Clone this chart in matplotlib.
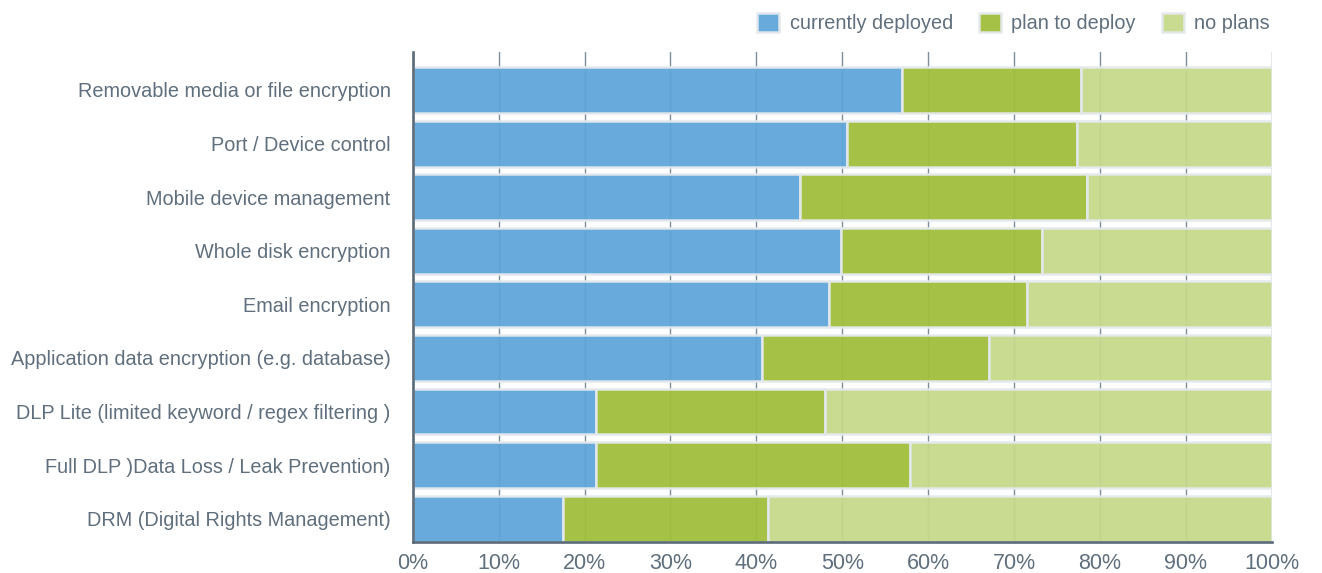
import matplotlib
matplotlib.use("Agg")
import matplotlib.pyplot as plt
import numpy as np

# Survey results: share of respondents per technology (percent)
categories = [
    "Removable media or file encryption",
    "Port / Device control",
    "Mobile device management",
    "Whole disk encryption",
    "Email encryption",
    "Application data encryption (e.g. database)",
    "DLP Lite (limited keyword / regex filtering )",
    "Full DLP )Data Loss / Leak Prevention)",
    "DRM (Digital Rights Management)",
]
currently_deployed = [57.0, 50.6, 45.1, 49.9, 48.4, 40.7, 21.3, 21.3, 17.5]
plan_to_deploy = [20.8, 26.7, 33.4, 23.4, 23.1, 26.4, 26.7, 36.6, 23.8]
no_plans = [22.2, 22.7, 21.5, 26.7, 28.5, 32.9, 52.0, 42.1, 58.7]
series_names = ["currently deployed", "plan to deploy", "no plans"]
tick_values = [0, 10, 20, 30, 40, 50, 60, 70, 80, 90, 100]
tick_labels = [f"{v}%" for v in tick_values]

colors = ["#5fa6d9", "#a0bf3c", "#c6d88b"]
edge_color = "#e4e9ed"
text_color = "#5f6f7d"
axis_color = "#5b6b79"
grid_color = "#7f8e9b"

plt.rcParams["font.family"] = ["Liberation Sans", "DejaVu Sans"]

fig = plt.figure(figsize=(13.22, 5.73), dpi=100)
ax = fig.add_axes([0.3122, 0.0546, 0.6498, 0.8552])

y = np.arange(len(categories))
left = np.zeros(len(categories))
handles = []
for name, vals, col in zip(series_names,
                           [currently_deployed, plan_to_deploy, no_plans],
                           colors):
    bars = ax.barh(y, vals, left=left, height=0.856, color=col,
                   edgecolor=edge_color, linewidth=1.8, alpha=0.95,
                   label=name, zorder=2)
    handles.append(bars)
    left = left + np.array(vals)

ax.set_xlim(0, 100)
ax.set_ylim(8.43, -0.715)
ax.set_xticks(tick_values)
ax.set_xticklabels(tick_labels)
ax.set_yticks(y)
ax.set_yticklabels(categories)

ax.tick_params(axis="x", length=0, pad=8, labelsize=15.5, labelcolor=text_color)
ax.tick_params(axis="y", length=0, pad=16, labelsize=14.3, labelcolor=text_color)

ax.xaxis.grid(True, color=grid_color, linewidth=1.0, zorder=0)
ax.yaxis.grid(False)
ax.set_axisbelow(True)

for side in ["top", "right"]:
    ax.spines[side].set_visible(False)
for side in ["left", "bottom"]:
    ax.spines[side].set_color(axis_color)
    ax.spines[side].set_linewidth(1.9)
    ax.spines[side].set_zorder(3)

fig.legend(handles=handles, labels=series_names, loc="upper right",
           bbox_to_anchor=(0.9658, 0.9895), ncol=3, frameon=False,
           fontsize=14.3, labelcolor=text_color,
           handlelength=1.1, handleheight=1.1, handletextpad=0.53,
           columnspacing=1.31, borderaxespad=0.0, borderpad=0.35)

fig.savefig("out.png", dpi=100, facecolor="white")
